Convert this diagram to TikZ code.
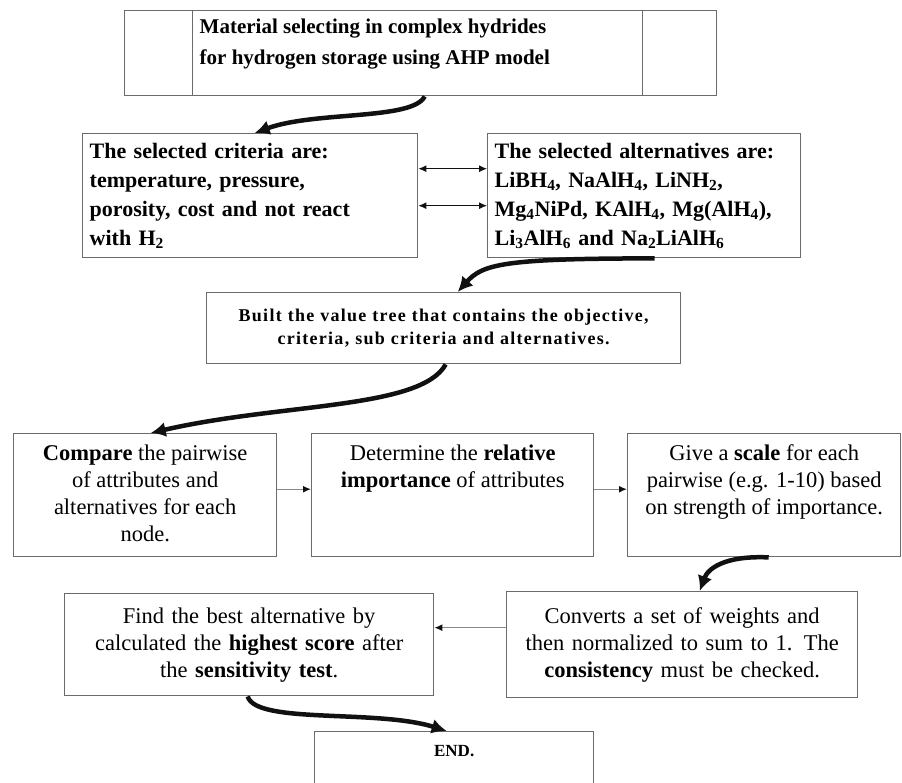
\documentclass[tikz,border=0pt]{standalone}
\usepackage{fontspec}
\setmainfont{Liberation Serif}
\usetikzlibrary{arrows.meta}
\definecolor{Edge}{HTML}{6B6B6B}
\definecolor{Link}{HTML}{8A8A8A}
\definecolor{Ink}{HTML}{111111}
\newcommand{\cellbody}[3]{\parbox[c][#1][t]{#2}{#3}}
\tikzset{
  card/.style={draw=Edge,fill=white,line width=1.4pt,anchor=north west,inner xsep=7pt,inner ysep=0pt},
  headtext/.style={font=\fontsize{21}{31}\selectfont\bfseries},
  listtext/.style={font=\fontsize{22}{29}\selectfont\bfseries,align=left},
  treetext/.style={font=\fontsize{18}{23}\selectfont\bfseries\addfontfeature{LetterSpace=7},align=center},
  steptext/.style={font=\fontsize{22.5}{27}\selectfont,align=center},
  curvearrow/.style={-{Latex[length=15pt,width=15pt]},draw=Ink,line width=4.5pt},
  sidearrow/.style={-{Latex[length=8pt,width=7pt,color=Ink]},draw=Link,line width=1.4pt},
  twoway/.style={{Latex[length=8pt,width=7pt]}-{Latex[length=8pt,width=7pt]},draw=Ink,line width=1pt}
}
\begin{document}
\begin{tikzpicture}[x=1pt,y=-1pt]
  \fill[white] (0,0) rectangle (902,783);
  \useasboundingbox (0,0) rectangle (902,783);
  % goal
  \node[card,minimum width=68pt,minimum height=85pt] (goalleft) at (124,10) {};
  \node[card,headtext,minimum width=450pt,minimum height=85pt,inner ysep=8pt] (goal) at (192,10)
    {\cellbody{69pt}{436pt}{\raggedright Material selecting in complex hydrides\\ for hydrogen storage using AHP model}};
  \node[card,minimum width=74pt,minimum height=85pt] (goalright) at (642,10) {};
  % criteria and alternatives
  \node[card,listtext,minimum width=335pt,minimum height=124pt,text width=321pt] (criteria) at (82,133)
    {The selected criteria are:\\ temperature, pressure,\\ porosity, cost and not react\\ with H\textsubscript{2}};
  \node[card,listtext,minimum width=313pt,minimum height=124pt,text width=299pt] (alternatives) at (487,133)
    {The selected alternatives are:\\
     LiBH\textsubscript{4}, NaAlH\textsubscript{4}, LiNH\textsubscript{2},\\
     Mg\textsubscript{4}NiPd, KAlH\textsubscript{4}, Mg(AlH\textsubscript{4}),\\
     Li\textsubscript{3}AlH\textsubscript{6} and Na\textsubscript{2}LiAlH\textsubscript{6}};
  \draw[twoway] ([yshift=27pt]criteria.east) -- ([yshift=27pt]alternatives.west);
  \draw[twoway] ([yshift=-10pt]criteria.east) -- ([yshift=-10pt]alternatives.west);
  % value tree
  \node[card,treetext,minimum width=474pt,minimum height=71pt,text width=460pt] (valuetree) at (206,292)
    {Built the value tree that contains the objective,\\ criteria, sub criteria and alternatives.};
  % pairwise steps
  \node[card,steptext,minimum width=263pt,minimum height=123pt,inner ysep=11pt] (compare) at (13,433)
    {\cellbody{101pt}{249pt}{\centering\textbf{Compare} the pairwise\\ of attributes and\\ alternatives for each\\ node.}};
  \node[card,steptext,minimum width=282pt,minimum height=123pt,inner ysep=11pt] (importance) at (311,433)
    {\cellbody{101pt}{268pt}{\centering Determine the \textbf{relative}\\ \textbf{importance} of attributes}};
  \node[card,steptext,minimum width=273pt,minimum height=123pt,inner ysep=11pt] (scale) at (627,433)
    {\cellbody{101pt}{259pt}{\centering Give a \textbf{scale} for each\\ pairwise (e.g. 1-10) based\\ on strength of importance.}};
  \draw[sidearrow] ([yshift=6pt]compare.east) -- ([yshift=6pt]importance.west);
  \draw[sidearrow] ([yshift=6pt]importance.east) -- ([yshift=6pt]scale.west);
  % weights and result
  \node[card,steptext,minimum width=351pt,minimum height=106pt,text width=337pt] (normalise) at (506,591)
    {Converts a set of weights and\\ then normalized to sum to 1. The\\ \textbf{consistency} must be checked.};
  \node[card,steptext,minimum width=369pt,minimum height=102pt,text width=355pt] (best) at (64,593)
    {Find the best alternative by\\ calculated the \textbf{highest score} after\\ the \textbf{sensitivity test}.};
  \draw[sidearrow] ([yshift=17pt]normalise.west) -- ([yshift=17pt]best.east);
  \node[card,font=\fontsize{17}{20}\selectfont\bfseries,minimum width=279pt,inner ysep=14pt] (finish) at (314,731)
    {\cellbody{60pt}{265pt}{\centering END.}};
  % flow between stages
  \draw[curvearrow] ([xshift=7pt]goal.south) .. controls +(-12,24) and +(60,-22) .. ([xshift=4.5pt]criteria.north);
  \draw[curvearrow] ([xshift=10.5pt]alternatives.south) .. controls +(-150,0) and +(25,-28) .. ([xshift=14pt]valuetree.north);
  \draw[curvearrow] ([xshift=2pt]valuetree.south) .. controls +(-25,45) and +(130,-30) .. ([xshift=5.5pt]compare.north);
  \draw[curvearrow] ([xshift=4.5pt]scale.south) .. controls +(-45,-2) and +(8,-22) .. ([xshift=17.5pt]normalise.north);
  \draw[curvearrow] ([xshift=-1.5pt]best.south) .. controls +(8,28) and +(-70,-22) .. ([xshift=-7.5pt]finish.north);
\end{tikzpicture}
\end{document}
